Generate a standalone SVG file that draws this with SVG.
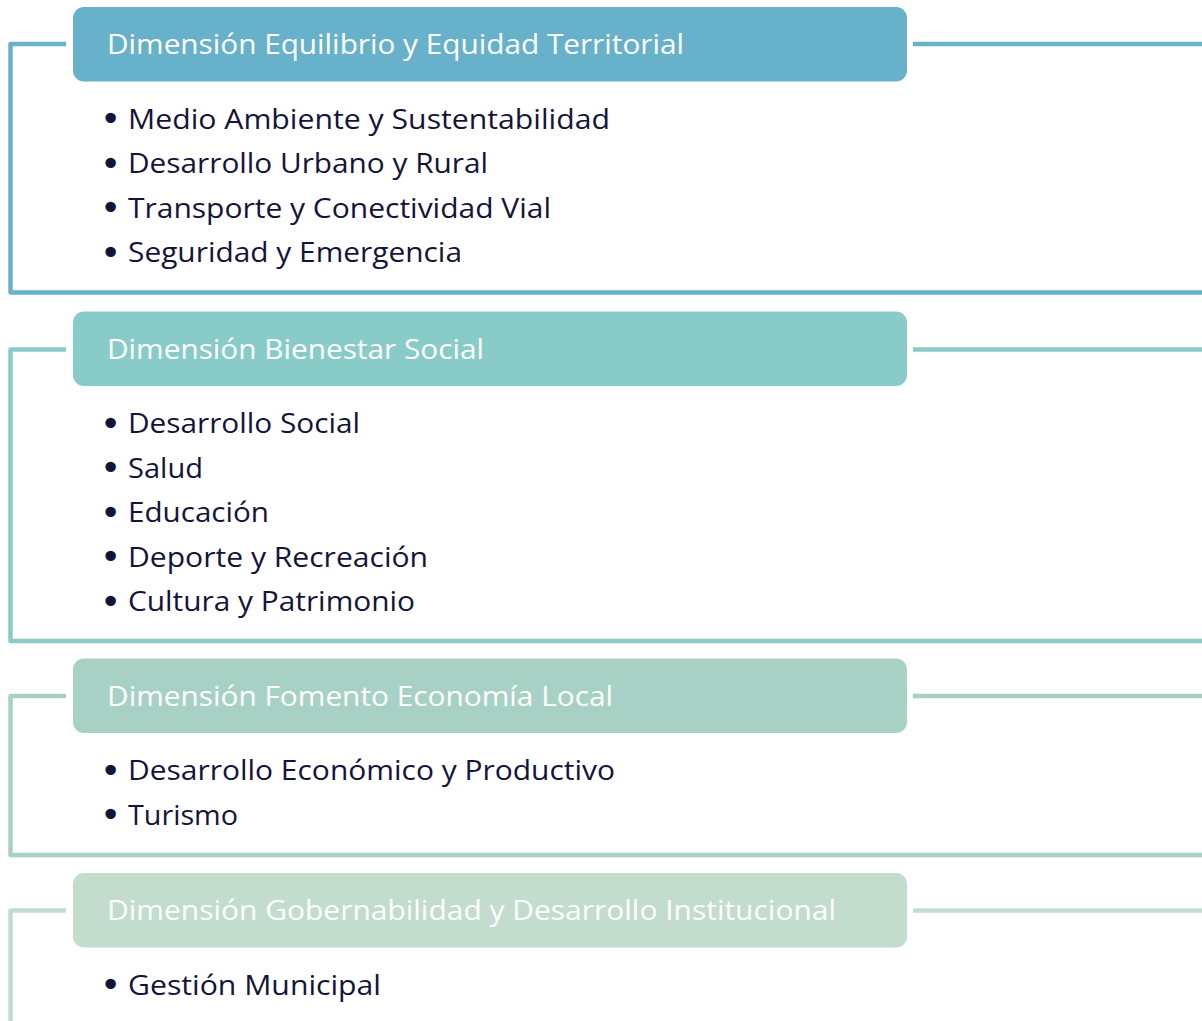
<svg xmlns="http://www.w3.org/2000/svg" width="1202" height="1021" viewBox="0 0 1202 1021">
<style>
.bg{fill:#ffffff}
.ttl{font-family:"Open Sans","Noto Sans",sans-serif;font-size:28px;fill:#ffffff}
.it{font-family:"Open Sans","Noto Sans",sans-serif;font-size:28px;fill:#14143a}
.bl{font-family:"DejaVu Sans",sans-serif;font-size:36px;fill:#14143a}
.ln{fill:none;stroke-width:4.5;stroke-linejoin:round}
.c1{stroke:#67b1ca}.c2{stroke:#89cbc8}.c3{stroke:#a8d1c5}.c4{stroke:#c2dccd}
.f1{fill:#67b1ca}.f2{fill:#89cbc8}.f3{fill:#a8d1c5}.f4{fill:#c2dccd}
</style>
<rect class="bg" x="0" y="0" width="1202" height="1021"/>
<g id="connectors">
<path class="ln c1" d="M66 44 H10.5 V292.5 H1202"/>
<path class="ln c1" d="M913 44 H1202"/>
<path class="ln c2" d="M66 349.5 H10.5 V641 H1202"/>
<path class="ln c2" d="M913 349.5 H1202"/>
<path class="ln c3" d="M66 696 H10.5 V855 H1202"/>
<path class="ln c3" d="M913 696 H1202"/>
<path class="ln c4" d="M66 910.5 H10.5 V1025"/>
<path class="ln c4" d="M913 910.5 H1202"/>
</g>
<g id="dim1">
<rect class="f1" x="73" y="7" width="834" height="74.5" rx="11"/>
<text class="ttl" x="107" y="53.5" textLength="577" lengthAdjust="spacingAndGlyphs">Dimensión Equilibrio y Equidad Territorial</text>
<text class="bl" x="100" y="131">•</text><text class="it" x="128" y="128.5" textLength="482" lengthAdjust="spacingAndGlyphs">Medio Ambiente y Sustentabilidad</text>
<text class="bl" x="100" y="175.5">•</text><text class="it" x="128" y="173" textLength="360" lengthAdjust="spacingAndGlyphs">Desarrollo Urbano y Rural</text>
<text class="bl" x="100" y="220">•</text><text class="it" x="128" y="217.5" textLength="423" lengthAdjust="spacingAndGlyphs">Transporte y Conectividad Vial</text>
<text class="bl" x="100" y="264.5">•</text><text class="it" x="128" y="262" textLength="334" lengthAdjust="spacingAndGlyphs">Seguridad y Emergencia</text>
</g>
<g id="dim2">
<rect class="f2" x="73" y="311.5" width="834" height="74.5" rx="11"/>
<text class="ttl" x="107" y="358.5" textLength="377" lengthAdjust="spacingAndGlyphs">Dimensión Bienestar Social</text>
<text class="bl" x="100" y="435.5">•</text><text class="it" x="128" y="433" textLength="232" lengthAdjust="spacingAndGlyphs">Desarrollo Social</text>
<text class="bl" x="100" y="480">•</text><text class="it" x="128" y="477.5" textLength="75" lengthAdjust="spacingAndGlyphs">Salud</text>
<text class="bl" x="100" y="524.5">•</text><text class="it" x="128" y="522" textLength="141" lengthAdjust="spacingAndGlyphs">Educación</text>
<text class="bl" x="100" y="569">•</text><text class="it" x="128" y="566.5" textLength="300" lengthAdjust="spacingAndGlyphs">Deporte y Recreación</text>
<text class="bl" x="100" y="613.5">•</text><text class="it" x="128" y="611" textLength="287" lengthAdjust="spacingAndGlyphs">Cultura y Patrimonio</text>
</g>
<g id="dim3">
<rect class="f3" x="73" y="658.5" width="834" height="74.5" rx="11"/>
<text class="ttl" x="107" y="705.5" textLength="506" lengthAdjust="spacingAndGlyphs">Dimensión Fomento Economía Local</text>
<text class="bl" x="100" y="782.5">•</text><text class="it" x="128" y="780" textLength="487" lengthAdjust="spacingAndGlyphs">Desarrollo Económico y Productivo</text>
<text class="bl" x="100" y="827">•</text><text class="it" x="128" y="824.5" textLength="110" lengthAdjust="spacingAndGlyphs">Turismo</text>
</g>
<g id="dim4">
<rect class="f4" x="73" y="873" width="834" height="74.5" rx="11"/>
<text class="ttl" x="107" y="919.5" textLength="729" lengthAdjust="spacingAndGlyphs">Dimensión Gobernabilidad y Desarrollo Institucional</text>
<text class="bl" x="100" y="997">•</text><text class="it" x="128" y="994.5" textLength="253" lengthAdjust="spacingAndGlyphs">Gestión Municipal</text>
</g>
</svg>
